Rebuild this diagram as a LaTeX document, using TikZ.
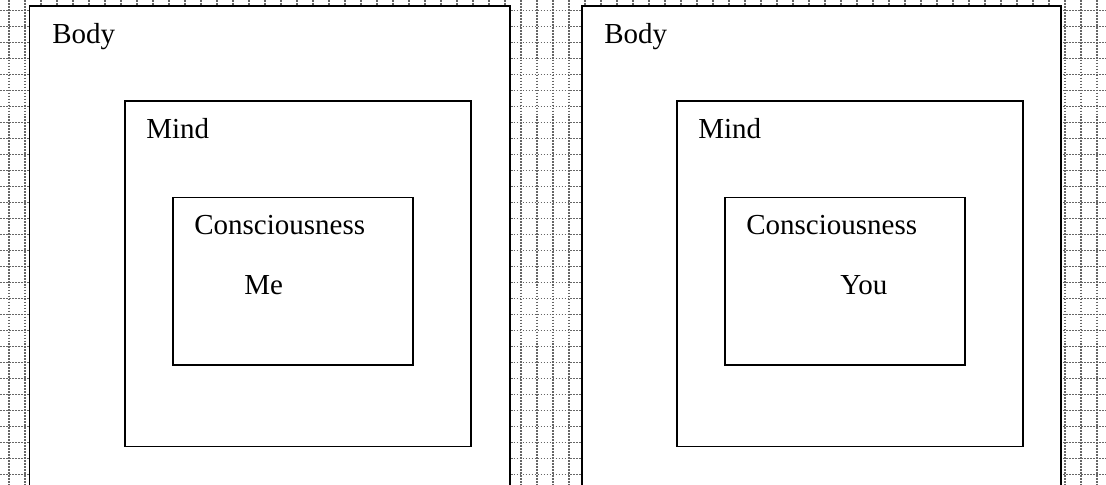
\documentclass[tikz,border=0pt]{standalone}
\usepackage{fontspec}
\setmainfont{Liberation Serif}
\usepackage{tikz}
\usetikzlibrary{positioning}

\begin{document}
\begin{tikzpicture}[x=0.02cm, y=-0.02cm, font=\fontsize{16.5}{18}\selectfont,
    gridline/.style={black!60, line width=0.8pt, dash pattern=on 1pt off 0.7pt},
    framebox/.style={draw, line width=0.9pt, fill=white},
    outerbox/.style={framebox, line width=1.1pt},
    lbl/.style={anchor=base west, inner sep=0pt}]
  \useasboundingbox (0,0) rectangle (1106,484);
  % dotted background grid
  \foreach \gx in {0,...,68} \draw[gridline] (9+16*\gx,0) -- (9+16*\gx,484);
  \foreach \gy in {0,...,29} \draw[gridline] (0,10.7+16*\gy) -- (1106,10.7+16*\gy);

  % left: me
  \filldraw[outerbox] (29.5,490) -- (29.5,6) -- (510,6) -- (510,490);
  \node[lbl] (bodyL) at (52,43.3) {Body};
  \draw[framebox] (125,101) rectangle (471,446.5);
  \node[lbl] (mindL) at (146,138.5) {Mind};
  \draw[framebox] (173,197.5) rectangle (413,365);
  \node[lbl] (consL) at (194,234) {Consciousness};
  \node[lbl] (me) at (244,294) {Me};

  % right: you
  \filldraw[outerbox] (582,490) -- (582,6) -- (1061,6) -- (1061,490);
  \node[lbl] (bodyR) at (604,43.3) {Body};
  \draw[framebox] (677,101) rectangle (1023,446.5);
  \node[lbl] (mindR) at (698,138.5) {Mind};
  \draw[framebox] (725,197.5) rectangle (965,365);
  \node[lbl] (consR) at (746,234) {Consciousness};
  \node[lbl] (you) at (840,294) {You};
\end{tikzpicture}
\end{document}
